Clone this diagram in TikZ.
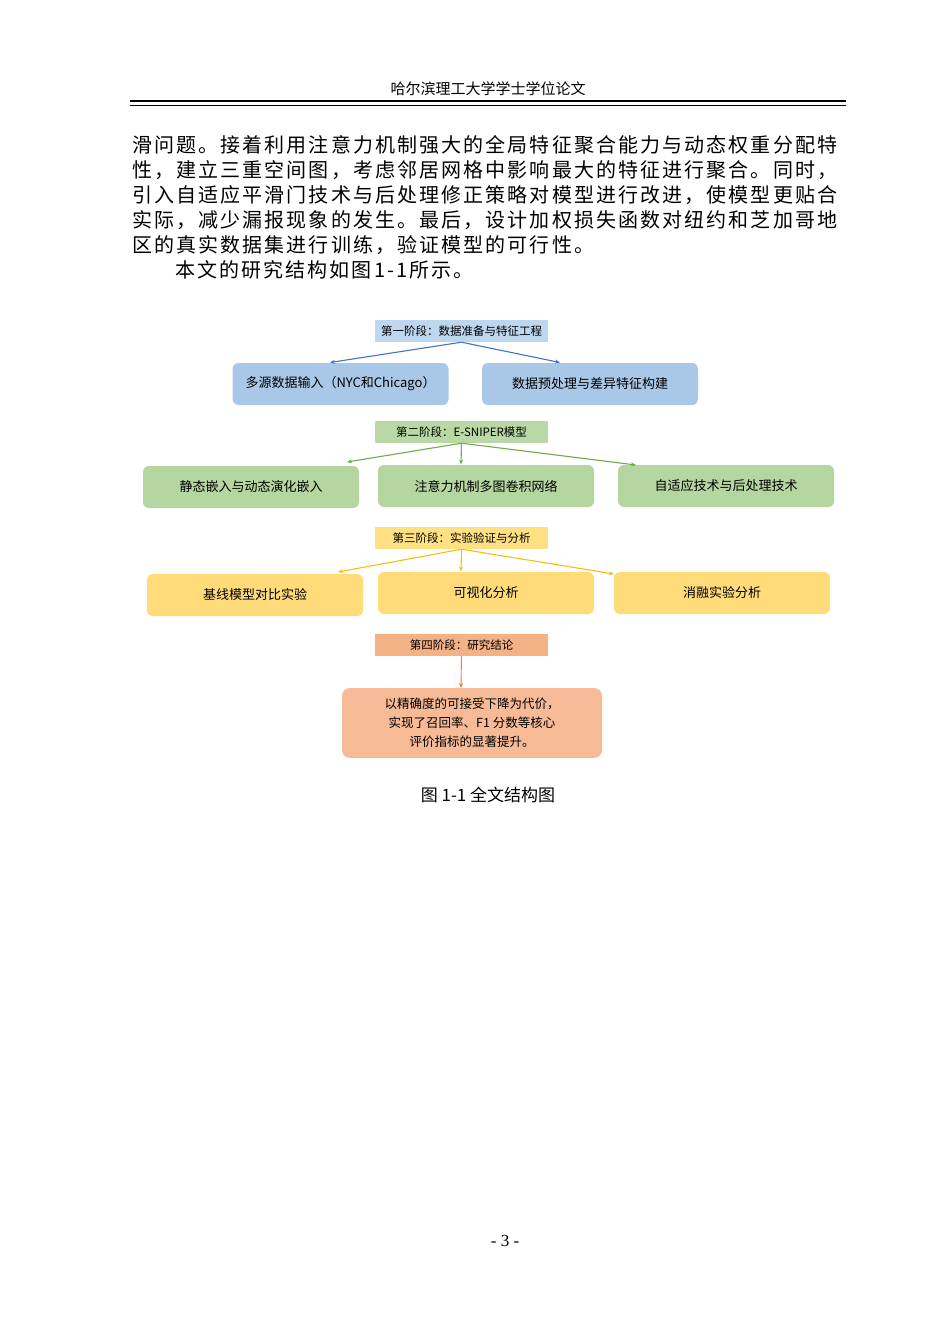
\documentclass[tikz,border=0pt]{standalone}
\usepackage{fontspec}
\setmainfont{Liberation Serif}
\newfontfamily\cjk{Noto Sans CJK SC}
\newfontfamily\cjkwide[LetterSpace=10.5]{Noto Sans CJK SC}
\usetikzlibrary{arrows.meta}
\definecolor{bS}{HTML}{BDD7EE}\definecolor{bB}{HTML}{A9C8E8}\definecolor{bA}{HTML}{4472C4}
\definecolor{gS}{HTML}{B8D9A6}\definecolor{gB}{HTML}{B5D6A0}\definecolor{gA}{HTML}{70AD47}
\definecolor{yS}{HTML}{FFE083}\definecolor{yB}{HTML}{FFDB7A}\definecolor{yA}{HTML}{F2C014}
\definecolor{oS}{HTML}{F4B183}\definecolor{oB}{HTML}{F6BA96}\definecolor{oA}{HTML}{ED7D31}
\tikzset{
 stagebox/.style={minimum width=173pt,minimum height=22pt,inner sep=0pt,font=\cjk\fontsize{11.5}{13}\selectfont},
 itembox/.style={rounded corners=6pt,minimum width=216pt,minimum height=42pt,inner sep=0pt,font=\cjk\fontsize{13}{15}\selectfont},
 arr/.style={-{Stealth[length=5pt,width=4pt]},line width=1.1pt},
 bodyline/.style={anchor=west,inner sep=0pt,font=\cjkwide\fontsize{20}{22}\selectfont}
}
\begin{document}
\begin{tikzpicture}[x=1pt,y=-1pt]
\fill[white] (0,0) rectangle (950,1342);
\node[font=\cjk\fontsize{15}{17}\selectfont] (hd) at (488,89) {哈尔滨理工大学学士学位论文};
\draw[line width=2.2pt] (130,101) -- (846,101);
\draw[line width=0.7pt] (130,105) -- (846,105);
\node[bodyline] (l1) at (132,145) {滑问题。接着利用注意力机制强大的全局特征聚合能力与动态权重分配特};
\node[bodyline] (l2) at (132,170) {性，建立三重空间图，考虑邻居网格中影响最大的特征进行聚合。同时，};
\node[bodyline] (l3) at (132,195) {引入自适应平滑门技术与后处理修正策略对模型进行改进，使模型更贴合};
\node[bodyline] (l4) at (132,220) {实际，减少漏报现象的发生。最后，设计加权损失函数对纽约和芝加哥地};
\node[bodyline] (l5) at (132,245) {区的真实数据集进行训练，验证模型的可行性。};
\node[bodyline] (l6) at (175,270) {本文的研究结构如图1-1所示。};
% stage 1
\node[stagebox,fill=bS] (s1) at (461.5,331) {第一阶段：数据准备与特征工程};
\node[itembox,fill=bB] (b1) at (340.5,384) {多源数据输入（NYC和Chicago）};
\node[itembox,fill=bB] (b2) at (590,384) {数据预处理与差异特征构建};
\draw[arr,bA] (s1.south) -- (330,362.5);
\draw[arr,bA] (s1.south) -- (560,362.5);
% stage 2
\node[stagebox,fill=gS] (s2) at (461.5,432) {第二阶段：E-SNIPER模型};
\node[itembox,fill=gB] (g1) at (251,487) {静态嵌入与动态演化嵌入};
\node[itembox,fill=gB] (g2) at (486,486) {注意力机制多图卷积网络};
\node[itembox,fill=gB] (g3) at (726,486) {自适应技术与后处理技术};
\draw[arr,gA] (s2.south) -- (347,462);
\draw[arr,gA] (s2.south) -- (461,464.5);
\draw[arr,gA] (s2.south) -- (636,465);
% stage 3
\node[stagebox,fill=yS] (s3) at (461.5,538) {第三阶段：实验验证与分析};
\node[itembox,fill=yB] (y1) at (255,595) {基线模型对比实验};
\node[itembox,fill=yB] (y2) at (486,593) {可视化分析};
\node[itembox,fill=yB] (y3) at (722,593) {消融实验分析};
\draw[arr,yA] (s3.south) -- (338,572);
\draw[arr,yA] (s3.south) -- (461,571.5);
\draw[arr,yA] (s3.south) -- (614,574);
% stage 4
\node[stagebox,fill=oS] (s4) at (461.5,645) {第四阶段：研究结论};
\node[rounded corners=8pt,fill=oB,minimum width=260pt,minimum height=70pt,inner sep=0pt,align=center,font=\cjk\fontsize{12.5}{19}\selectfont] (o1) at (472,723) {以精确度的可接受下降为代价，\\实现了召回率、F1 分数等核心\\评价指标的显著提升。};
\draw[arr,oA,line width=0.9pt] (s4.south) -- (461,688);
\node[font=\cjk\fontsize{17}{19}\selectfont] (cap) at (488,795) {图 1-1 全文结构图};
\node[font=\fontsize{17}{19}\selectfont] (pg) at (505,1241) {- 3 -};
\end{tikzpicture}
\end{document}
